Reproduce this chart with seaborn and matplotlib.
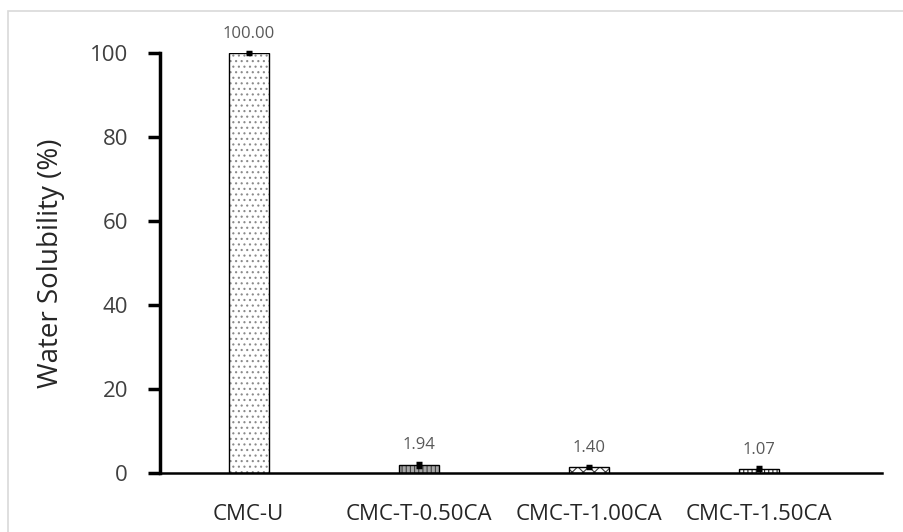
import matplotlib
matplotlib.use("Agg")
import matplotlib.pyplot as plt
import matplotlib.patches as mpatches
import seaborn as sns
import pandas as pd
import numpy as np

categories = ["CMC-U", "CMC-T-0.50CA", "CMC-T-1.00CA", "CMC-T-1.50CA"]
values = [100.00, 1.94, 1.40, 1.07]
errors = [0.2, 0.45, 0.3, 0.3]
value_labels = ["100.00", "1.94", "1.40", "1.07"]
yticks = [0, 20, 40, 60, 80, 100]

sns.set_theme(style="white")
plt.rcParams['font.family'] = ['Open Sans', 'DejaVu Sans']
plt.rcParams['hatch.linewidth'] = 0.8

fig = plt.figure(figsize=(9.04, 5.32), dpi=100)
ax = fig.add_axes([160/904, 1-473/532, (882-160)/904, (473-53)/532])

df = pd.DataFrame({"cat": categories, "val": values})
sns.barplot(data=df, x="cat", y="val", ax=ax, width=0.235,
            color="white", edgecolor="black", linewidth=1.0, errorbar=None)

fills = ["white", "#a6a6a6", "white", "white"]
hatches = ["...", "||||", "xxx", "||||"]
hatch_cols = ["#8a8a8a", "#404040", "#404040", "#202020"]
for p, f, h, hc in zip(ax.patches, fills, hatches, hatch_cols):
    p.set_facecolor(f)
    p.set_hatch(h)
    p.set_edgecolor("black")
    p._hatch_color = matplotlib.colors.to_rgba(hc)

x = np.arange(len(categories))
ax.errorbar(x, values, yerr=errors, fmt="none", ecolor="black",
            elinewidth=2.5, capsize=2.5, capthick=2.5, zorder=5, clip_on=False)

for xi, v, e, lab in zip(x, values, errors, value_labels):
    ax.annotate(lab, (xi, v + e), xytext=(0, 7), textcoords="offset points",
                ha="center", va="bottom", fontsize=12, color="#595959",
                annotation_clip=False)

ax.set_ylim(0, 100)
ax.set_xlim(-0.52, 3.72)
ax.set_yticks(yticks)
ax.set_yticklabels([str(t) for t in yticks], fontsize=16, color="#404040")
ax.tick_params(axis="y", direction="out", length=9, width=2.5, color="black", pad=14, left=True)
ax.tick_params(axis="x", length=0, pad=22, labelsize=16, labelcolor="#262626")
ax.set_xlabel("")
ax.set_ylabel("Water Solubility (%)", fontsize=20, color="#262626", labelpad=18)

for s in ["top", "right"]:
    ax.spines[s].set_visible(False)
ax.spines["left"].set_linewidth(2.5)
ax.spines["left"].set_color("black")
ax.spines["bottom"].set_linewidth(1.8)
ax.spines["bottom"].set_color("black")
ax.patch.set_alpha(0)

frame = mpatches.Rectangle((8/904, -0.1), 1.2, 1 - 11/532 + 0.1, transform=fig.transFigure,
                           fill=False, edgecolor="#d9d9d9", linewidth=1.2)
fig.patches.append(frame)

fig.savefig("out.png", dpi=100)
